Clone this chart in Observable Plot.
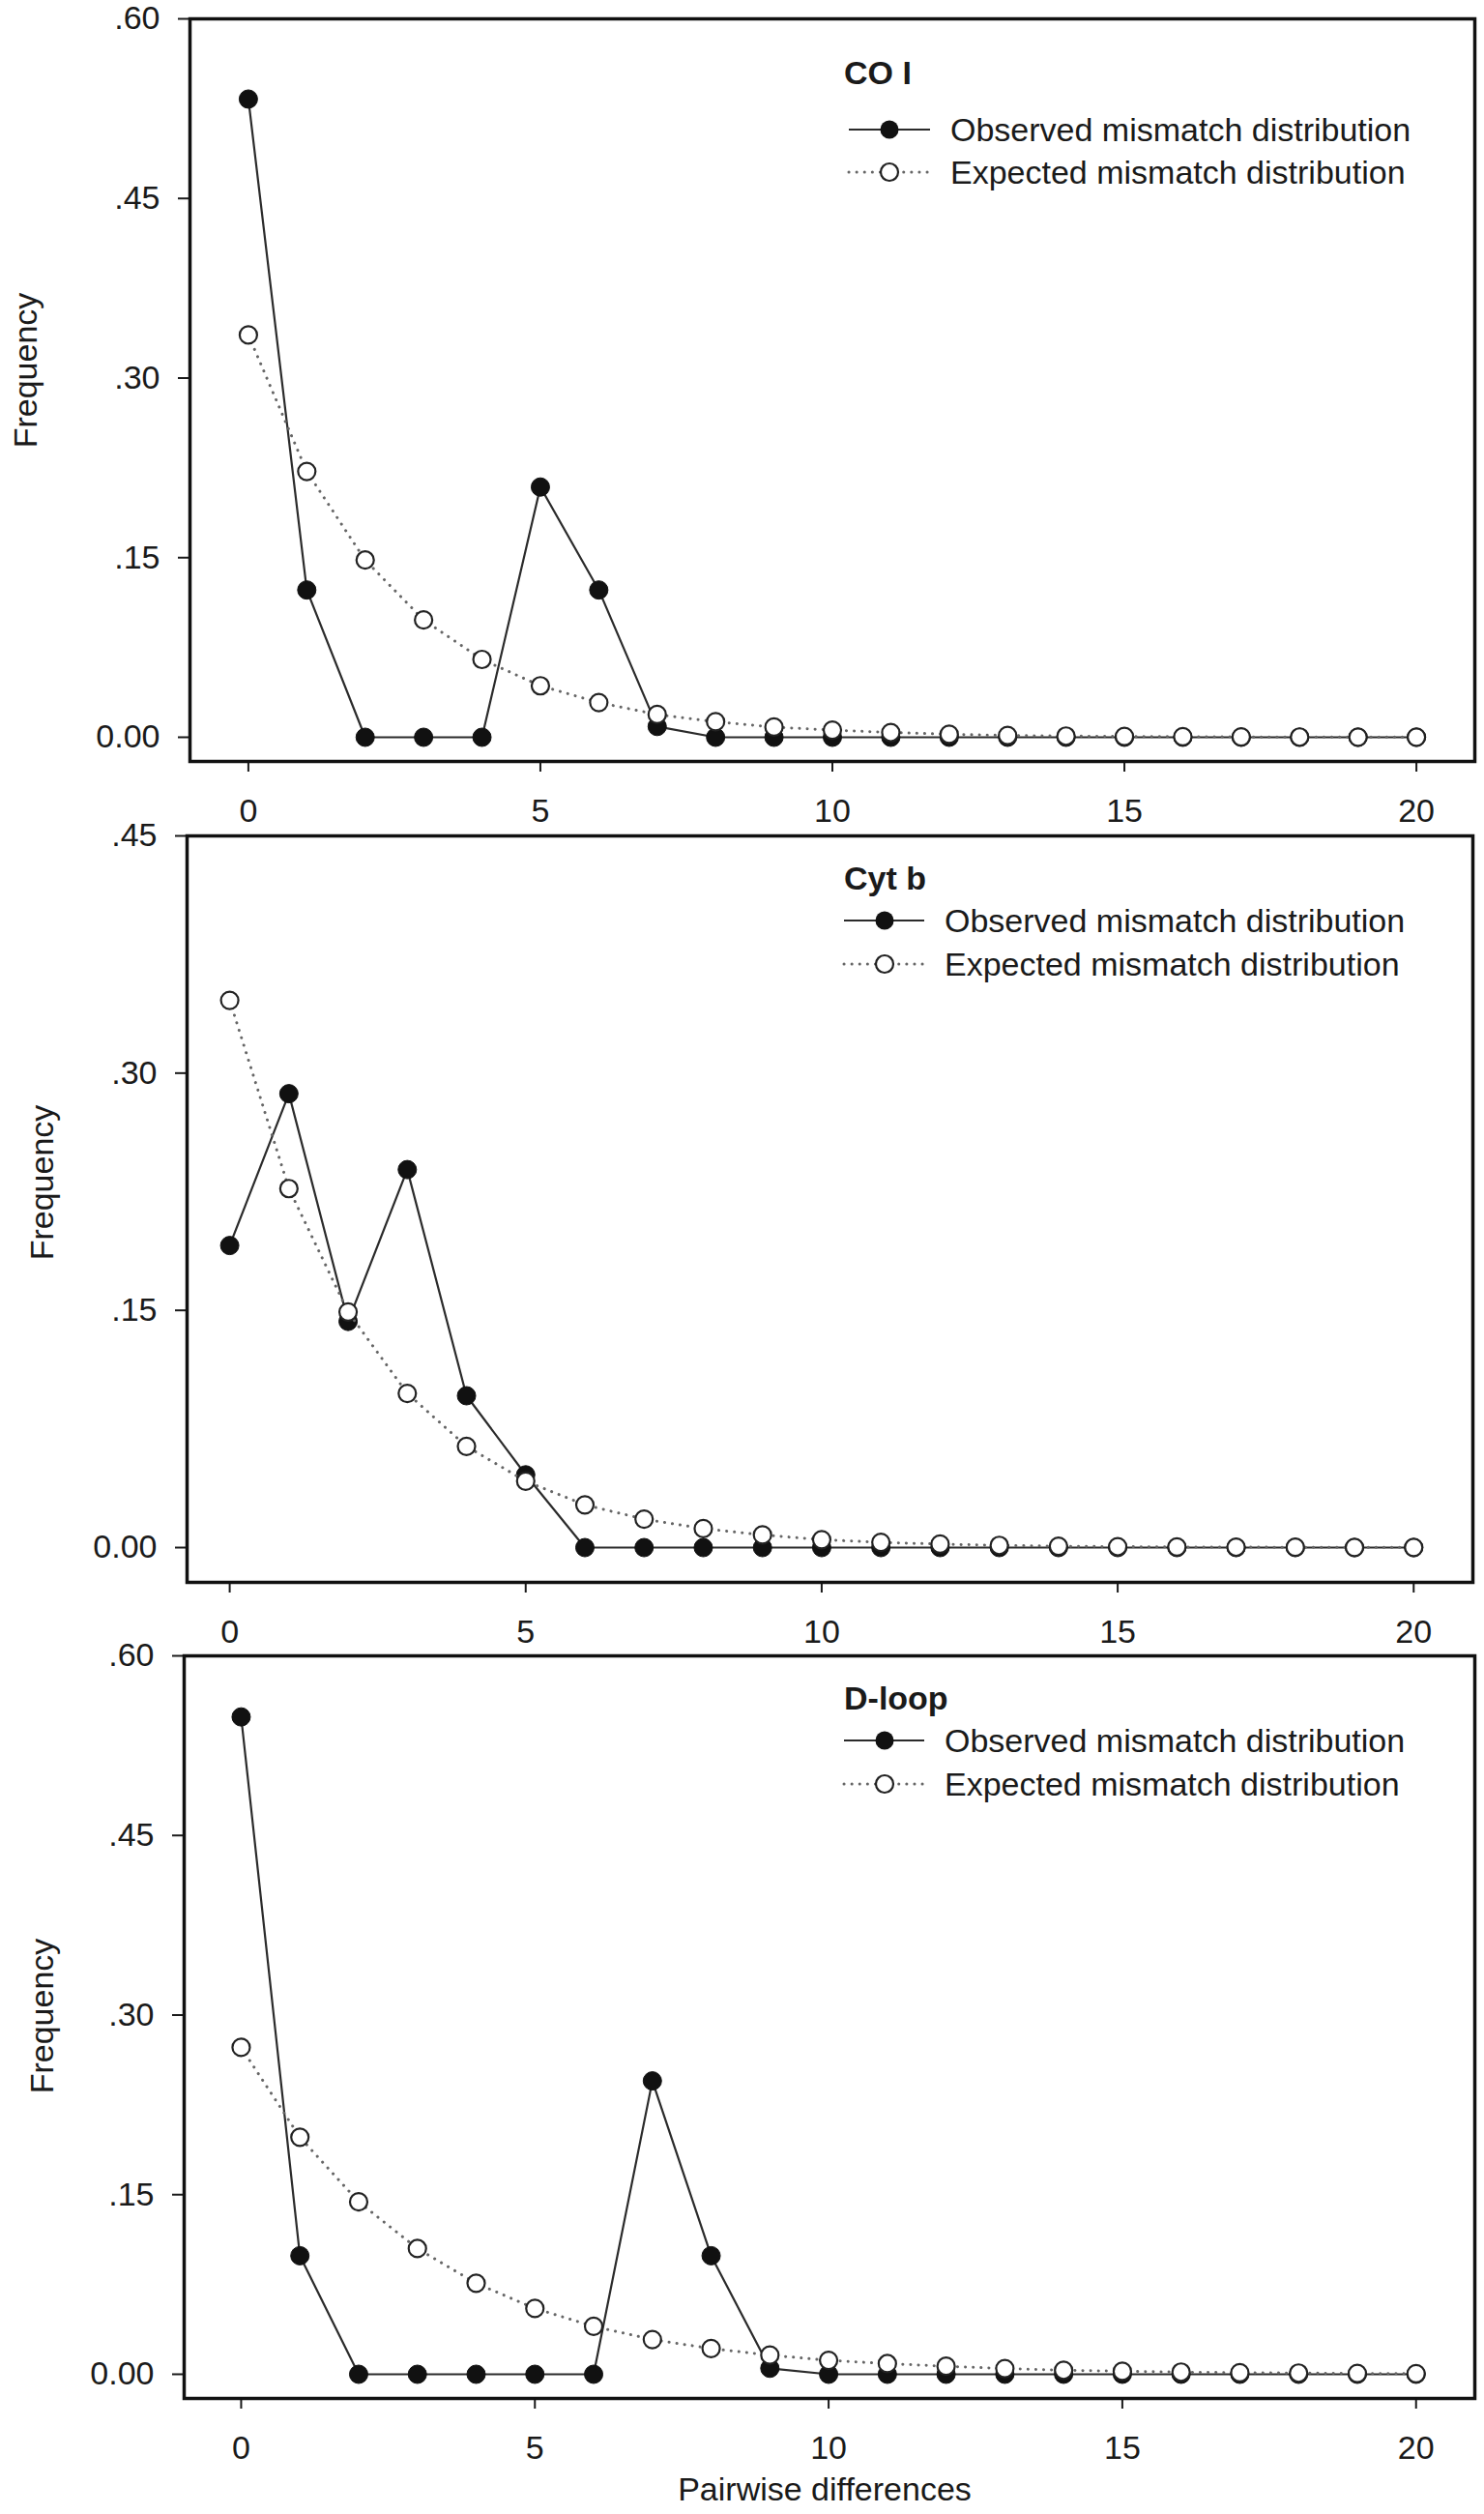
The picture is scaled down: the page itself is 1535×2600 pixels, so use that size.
<!DOCTYPE html>
<html>
<head>
<meta charset="utf-8">
<script src="https://cdn.jsdelivr.net/npm/d3@7"></script>
<script src="https://cdn.jsdelivr.net/npm/@observablehq/plot@0.6"></script>
<style>
  body { margin: 0; background: #fff; }
  #chart { position: relative; width: 1535px; height: 2600px; background: #fff; }
  #chart svg { position: absolute; left: 0; }
</style>
</head>
<body>
<div id="chart"></div>
<script>
// ---- data ----
const pairwise = [0, 1, 2, 3, 4, 5, 6, 7, 8, 9, 10, 11, 12, 13, 14, 15, 16, 17, 18, 19, 20];

const coiObserved = [0.533, 0.123, 0, 0, 0, 0.209, 0.123, 0.009, 0, 0, 0, 0, 0, 0, 0, 0, 0, 0, 0, 0, 0];
const coiExpected = [0.336, 0.222, 0.148, 0.098, 0.065, 0.043, 0.029, 0.019, 0.013, 0.0085, 0.006, 0.004, 0.0025, 0.0015, 0.001, 0.0007, 0.0005, 0.0003, 0.0002, 0.0001, 0.0001];

const cytbObserved = [0.191, 0.287, 0.143, 0.239, 0.096, 0.046, 0, 0, 0, 0, 0, 0, 0, 0, 0, 0, 0, 0, 0, 0, 0];
const cytbExpected = [0.346, 0.227, 0.149, 0.0975, 0.064, 0.042, 0.027, 0.018, 0.012, 0.008, 0.005, 0.0033, 0.0022, 0.0014, 0.0009, 0.0006, 0.0004, 0.0003, 0.0002, 0.0001, 0.0001];

const dloopObserved = [0.549, 0.099, 0, 0, 0, 0, 0, 0.245, 0.099, 0.005, 0, 0, 0, 0, 0, 0, 0, 0, 0, 0, 0];
const dloopExpected = [0.273, 0.198, 0.144, 0.105, 0.076, 0.055, 0.040, 0.029, 0.0215, 0.016, 0.0116, 0.0089, 0.0067, 0.0048, 0.0034, 0.0025, 0.0018, 0.0013, 0.001, 0.0007, 0.0005];

const xTicks = [0, 5, 10, 15, 20];
const yTicksWide = [0, 0.15, 0.30, 0.45, 0.60];
const yTicksNarrow = [0, 0.15, 0.30, 0.45];

const geneNames = ["CO I", "Cyt b", "D-loop"];
const legendLabels = ["Observed mismatch distribution", "Expected mismatch distribution"];
const yLabel = "Frequency";
const xLabel = "Pairwise differences";

// ---- layout ----
const FONT = "'Liberation Sans', Arial, Helvetica, sans-serif";
const panels = [
  {gene: geneNames[0], obs: coiObserved, exp: coiExpected, yTicks: yTicksWide,
   top: 0, height: 860, mt: 19, mb: 73, ml: 196, mr: 10,
   xDomain: [-1, 21], yDomain: [-0.0202, 0.6],
   leg: {title: 87, r1: 134, r2: 178, l1: 878, l2: 962, dot: 920, tx: 983, tt: 873},
   ylab: {x: 38, y: 383}, showXLabel: false},
  {gene: geneNames[1], obs: cytbObserved, exp: cytbExpected, yTicks: yTicksNarrow,
   top: 845, height: 860, mt: 19, mb: 69, ml: 193, mr: 12,
   xDomain: [-0.72, 21], yDomain: [-0.022, 0.45],
   leg: {title: 75, r1: 107, r2: 152, l1: 873, l2: 956, dot: 915, tx: 977, tt: 873},
   ylab: {x: 55, y: 378}, showXLabel: false},
  {gene: geneNames[2], obs: dloopObserved, exp: dloopExpected, yTicks: yTicksWide,
   top: 1693, height: 907, mt: 19, mb: 120, ml: 190, mr: 10,
   xDomain: [-0.97, 21], yDomain: [-0.0202, 0.6],
   leg: {title: 75, r1: 107, r2: 152, l1: 873, l2: 956, dot: 915, tx: 977, tt: 873},
   ylab: {x: 55, y: 392}, showXLabel: true}
];

const yFmt = d => d === 0 ? "0.00" : d.toFixed(2).replace(/^0/, "");
const container = document.getElementById("chart");

for (const p of panels) {
  const obsRows = pairwise.map((x, i) => ({x, y: p.obs[i]}));
  const expRows = pairwise.map((x, i) => ({x, y: p.exp[i]}));
  const svg = Plot.plot({
    width: 1535,
    height: p.height,
    marginTop: p.mt, marginBottom: p.mb, marginLeft: p.ml, marginRight: p.mr,
    style: {fontFamily: FONT, fontSize: "34px", color: "#1a1a1a", background: "transparent", overflow: "visible"},
    x: {domain: p.xDomain, label: null},
    y: {domain: p.yDomain, label: null},
    marks: [
      Plot.axisX({ticks: xTicks, tickSize: 11, tickPadding: 27, strokeWidth: 2, label: null, tickFormat: d => String(d)}),
      Plot.axisY({ticks: p.yTicks, tickSize: 12, tickPadding: 19, strokeWidth: 2, label: null, tickFormat: yFmt}),
      Plot.line(obsRows, {x: "x", y: "y", stroke: "#2b2b2b", strokeWidth: 2.2}),
      Plot.dot(obsRows, {x: "x", y: "y", r: 9.5, fill: "#111", stroke: "#111", strokeWidth: 1}),
      Plot.line(expRows, {x: "x", y: "y", stroke: "#666", strokeWidth: 3, strokeDasharray: "0.1 8", strokeLinecap: "round"}),
      Plot.dot(expRows, {x: "x", y: "y", r: 9, fill: "#fff", stroke: "#222", strokeWidth: 2.2}),
      Plot.frame({stroke: "#111", strokeWidth: 3.5})
    ]
  });
  svg.style.top = p.top + "px";
  container.appendChild(svg);

  const s = d3.select(svg);
  const L = p.leg;
  const g = s.append("g").attr("font-family", FONT).attr("fill", "#1a1a1a").attr("text-anchor", "start");
  g.append("text").attr("x", L.tt).attr("y", L.title).attr("font-size", 34).attr("font-weight", "bold").text(p.gene);
  // observed legend row
  g.append("line").attr("x1", L.l1).attr("x2", L.l2).attr("y1", L.r1).attr("y2", L.r1)
    .attr("stroke", "#2b2b2b").attr("stroke-width", 2.2);
  g.append("circle").attr("cx", L.dot).attr("cy", L.r1).attr("r", 9.5).attr("fill", "#111");
  g.append("text").attr("x", L.tx).attr("y", L.r1 + 12).attr("font-size", 34).text(legendLabels[0]);
  // expected legend row
  g.append("line").attr("x1", L.l1).attr("x2", L.l2).attr("y1", L.r2).attr("y2", L.r2)
    .attr("stroke", "#666").attr("stroke-width", 3).attr("stroke-dasharray", "0.1 8").attr("stroke-linecap", "round");
  g.append("circle").attr("cx", L.dot).attr("cy", L.r2).attr("r", 9).attr("fill", "#fff").attr("stroke", "#222").attr("stroke-width", 2.2);
  g.append("text").attr("x", L.tx).attr("y", L.r2 + 12).attr("font-size", 34).text(legendLabels[1]);
  // y label
  s.append("text").attr("transform", `translate(${p.ylab.x},${p.ylab.y}) rotate(-90)`)
    .attr("text-anchor", "middle").attr("font-family", FONT).attr("font-size", 34).attr("fill", "#1a1a1a").text(yLabel);
  if (p.showXLabel) {
    s.append("text").attr("x", 853).attr("y", 893).attr("text-anchor", "middle")
      .attr("font-family", FONT).attr("font-size", 34).attr("fill", "#1a1a1a").text(xLabel);
  }
}
</script>
</body>
</html>
